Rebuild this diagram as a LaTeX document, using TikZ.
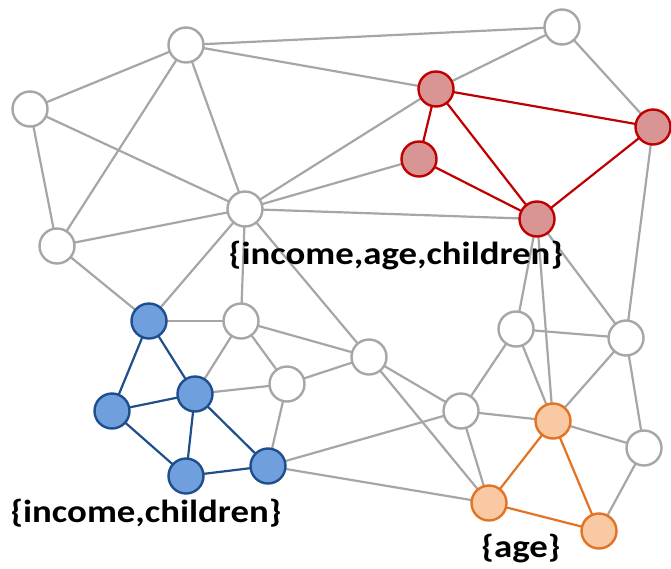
\documentclass[tikz,border=0pt]{standalone}
\usepackage{fontspec}
\setmainfont{Carlito}
\definecolor{edgegray}{HTML}{A6A6A6}
\definecolor{redfill}{HTML}{D99594}
\definecolor{redline}{HTML}{C00000}
\definecolor{bluefill}{HTML}{6F9FDC}
\definecolor{blueline}{HTML}{1F4E8C}
\definecolor{orangefill}{HTML}{F8C9A3}
\definecolor{orangeline}{HTML}{E37222}
\newcommand{\attrtext}[1]{\scalebox{1.15}[1]{#1}}
\tikzset{
  vtx/.style={circle, minimum size=35pt, inner sep=0pt, line width=2.4pt},
  plain/.style={vtx, draw=edgegray, fill=white},
  redv/.style={vtx, draw=redline, fill=redfill},
  bluev/.style={vtx, draw=blueline, fill=bluefill},
  orangev/.style={vtx, draw=orangeline, fill=orangefill},
  gedge/.style={draw=edgegray, line width=2.2pt},
  redge/.style={draw=redline, line width=2.2pt},
  bedge/.style={draw=blueline, line width=2.2pt},
  oedge/.style={draw=orangeline, line width=2.2pt},
  attr/.style={font=\bfseries\fontsize{32}{34}\selectfont, text=black, inner sep=0pt, anchor=base}
}
\begin{document}
\begin{tikzpicture}[x=1pt, y=-1pt]
\useasboundingbox (0,0) rectangle (671,568);

% gray vertices
\coordinate (pA) at (186,45);
\coordinate (pB) at (562,27);
\coordinate (pC) at (30,109);
\coordinate (pD) at (57,246);
\coordinate (pE) at (245,209);
\coordinate (pF) at (241,321);
\coordinate (pG) at (287,384);
\coordinate (pH) at (369,357);
\coordinate (pI) at (461,411);
\coordinate (pJ) at (516,329);
\coordinate (pK) at (626,338);
\coordinate (pL) at (644,448);
% red cluster
\coordinate (pR1) at (436,89);
\coordinate (pR2) at (419,159);
\coordinate (pR3) at (537,219);
\coordinate (pR4) at (653,127);
% blue cluster
\coordinate (pB1) at (149,321);
\coordinate (pB2) at (195,394);
\coordinate (pB3) at (112,411);
\coordinate (pB4) at (186,476);
\coordinate (pB5) at (268,466);
% orange cluster
\coordinate (pO1) at (553,421);
\coordinate (pO2) at (489,503);
\coordinate (pO3) at (599,531);

% gray connectors
\foreach \u/\v in {pA/pB, pA/pC, pA/pD, pA/pE, pA/pR1, pC/pD, pC/pE, pD/pE, pD/pB1,
  pE/pR1, pE/pR2, pE/pR3, pE/pB1, pE/pF, pE/pH, pB/pR1, pB/pR4, pR4/pK,
  pR3/pJ, pR3/pO1, pR3/pK, pB1/pF, pF/pB2, pF/pG, pF/pH, pB2/pG, pG/pH, pG/pB5,
  pB5/pI, pB5/pO2, pJ/pK, pJ/pI, pJ/pO1, pK/pO1, pK/pL, pH/pI, pH/pO2,
  pI/pO1, pI/pO2, pO1/pL, pL/pO3}
  \draw[gedge] (\u) -- (\v);

% cluster connectors
\foreach \u/\v in {pR1/pR4, pR1/pR2, pR1/pR3, pR2/pR3, pR3/pR4}
  \draw[redge] (\u) -- (\v);
\foreach \u/\v in {pB1/pB3, pB1/pB2, pB3/pB2, pB3/pB4, pB2/pB4, pB2/pB5, pB4/pB5}
  \draw[bedge] (\u) -- (\v);
\foreach \u/\v in {pO1/pO2, pO1/pO3, pO2/pO3}
  \draw[oedge] (\u) -- (\v);

% vertices
\foreach \p in {pA,pB,pC,pD,pE,pF,pG,pH,pI,pJ,pK,pL}
  \node[plain] (n\p) at (\p) {};
\foreach \p in {pR1,pR2,pR3,pR4}
  \node[redv] (n\p) at (\p) {};
\foreach \p in {pB1,pB2,pB3,pB4,pB5}
  \node[bluev] (n\p) at (\p) {};
\foreach \p in {pO1,pO2,pO3}
  \node[orangev] (n\p) at (\p) {};

% attribute labels
\node[attr] (lab1) at (396,264) {\attrtext{\{income,age,children\}}};
\node[attr] (lab2) at (146,522) {\attrtext{\{income,children\}}};
\node[attr] (lab3) at (521,557) {\attrtext{\{age\}}};
\end{tikzpicture}
\end{document}
